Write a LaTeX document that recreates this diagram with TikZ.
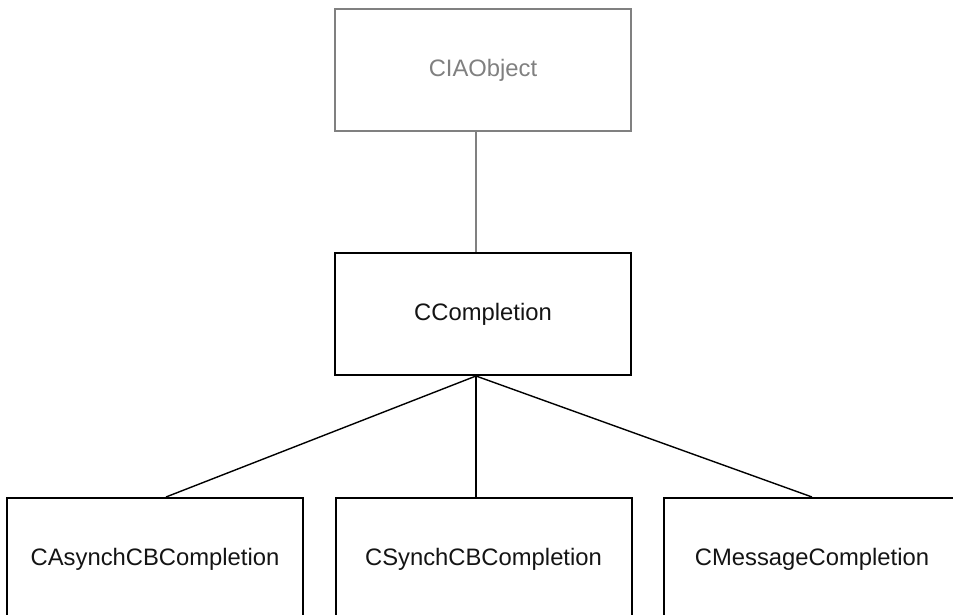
\documentclass[tikz,border=0pt]{standalone}
\usepackage{fontspec}
\setmainfont{Liberation Sans}
\begin{document}
\begin{tikzpicture}[x=1pt,y=-1pt,
  classbox/.style={draw=black, line width=2pt, rectangle, inner sep=0pt,
    minimum width=296pt, minimum height=122pt, text=black!92,
    font=\fontsize{23.8}{28}\selectfont},
  basebox/.style={classbox, draw=black!50, text=black!50},
  link/.style={draw=black, line width=1.4pt},
  baselink/.style={link, draw=black!50, line width=2pt}]
  \useasboundingbox (0,0) rectangle (953,615);

  % class nodes
  \node[basebox]  (obj)  at (483,70.5) {CIAObject};
  \node[classbox] (comp) at (483,314)  {CCompletion};
  \node[classbox] (asyn) at (155,559)  {CAsynchCBCompletion};
  \node[classbox] (syn)  at (483.5,559) {CSynchCBCompletion};
  \node[classbox] (msg)  at (812,559)  {CMessageCompletion};

  % attachment points of the inheritance lines
  \coordinate (hubtop) at ([xshift=-7pt]obj.south);
  \coordinate (hubin)  at ([xshift=-7pt]comp.north);
  \coordinate (hub)    at ([xshift=-7pt]comp.south);
  \coordinate (pa)     at ([xshift=11pt]asyn.north);
  \coordinate (ps)     at ([xshift=-7.5pt]syn.north);
  \coordinate (pm)     at (msg.north);

  \draw[baselink] (hubtop) -- (hubin);
  \draw[link] (hub) -- (pa);
  \draw[link] (hub) -- (ps);
  \draw[link] (hub) -- (pm);
\end{tikzpicture}
\end{document}
